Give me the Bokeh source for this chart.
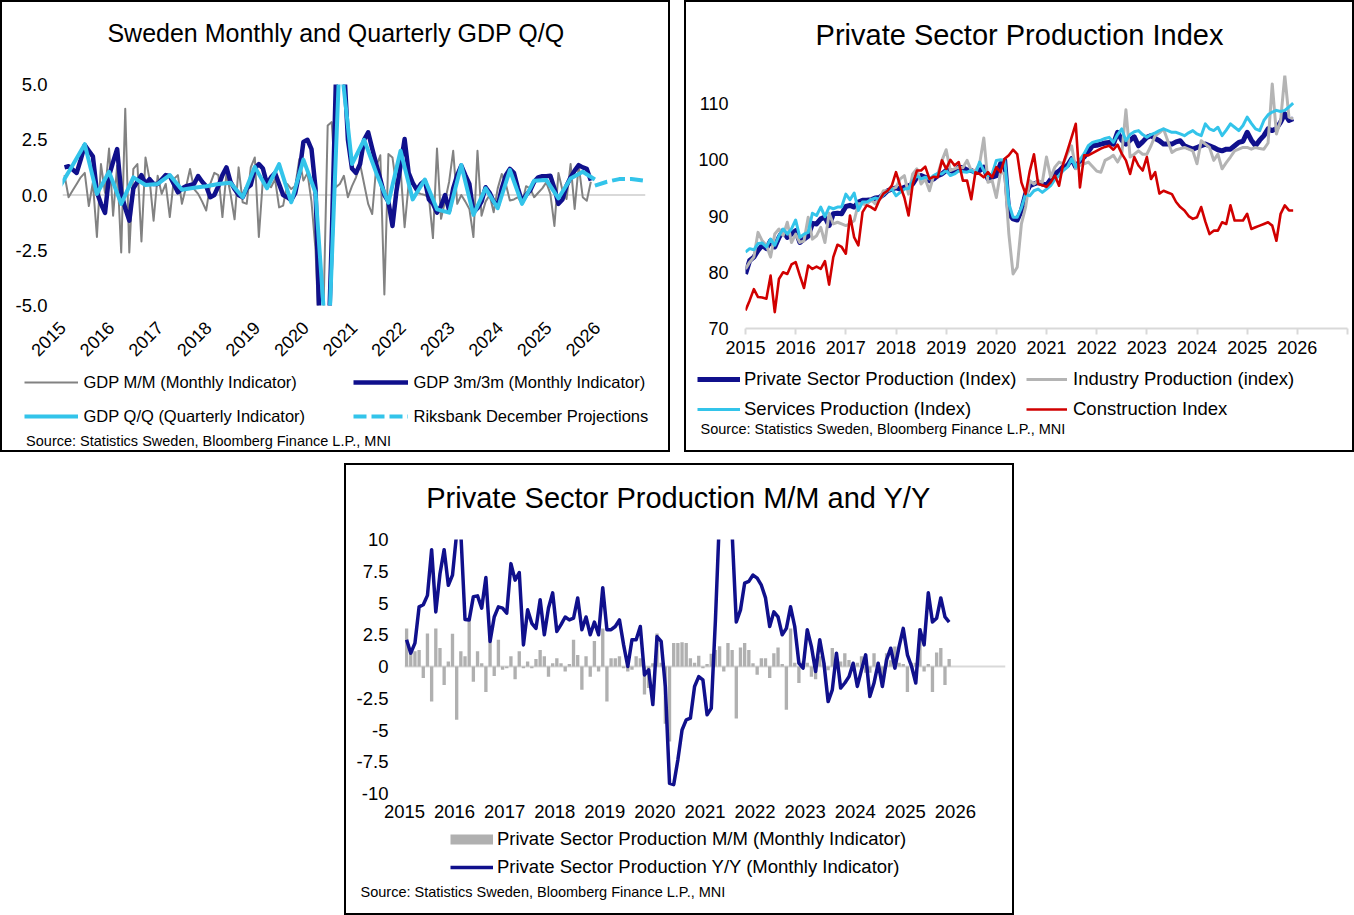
import math
from bokeh.plotting import figure
from bokeh.models import Range1d, FixedTicker, Span, Label, Legend, LegendItem, Spacer, Div
from bokeh.layouts import column, row
from bokeh.embed import file_html
from bokeh.resources import INLINE

FONT = "Liberation Sans"
START_YEAR = 2015
year_labels = [str(y) for y in range(2015, 2027)]

# ---------------- Panel 1: Sweden Monthly and Quarterly GDP Q/Q (monthly from Jan 2015) ----------------
gdp_mm = [0.9, -0.1, 0.2, 0.5, 0.8, 1.0, -0.5, 0.57, -1.9, 1.4,
          0.1, 2.1, -0.94, 1.33, -2.6, 3.9, -2.6, 1.18, 1.4, -2.1,
          1.7, 0.72, -1.16, 0.87, 0.05, 0.5, -1.0, 0.72, 0.9, -0.4,
          0.35, 1.18, 0.27, 0.05, -0.3, -0.7, 0.5, 1.0, 0.9, -1.0,
          1.0, 0.05, -1.1, 1.25, -0.33, -0.4, 1.25, 1.7, -1.9, 0.72,
          0.5, 0.35, 0.72, -0.56, -0.48, 0.5, 0.27, 0.42, 1.63, 0.65,
          1.0, -0.3, -2.5, -7.0, -5.0, 3.14, 3.3, 0.35, 0.5, 0.87,
          -0.1, 0.4, 0.8, 1.4, 0.5, -0.4, -0.86, 1.3, 1.8, -4.5,
          1.86, 1.7, 0.35, 1.18, -1.46, 0.5, 0.5, 0.12, 0.05, 0.0,
          -0.1, -1.95, 2.1, -1.08, -0.26, 0.6, 2.0, -0.4, 0.0, -0.3,
          -0.63, -1.9, 2.0, -0.94, -0.3, 0.0, -0.78, 0.3, 0.95, 0.5,
          -0.25, -0.2, -0.1, -0.4, 0.4, 0.3, -0.1, 0.1, 0.3, 0.57,
          0.05, -1.4, 1.0, 0.2, -0.18, 1.4, -0.63, 1.33, -0.1, -0.26, 0.6]
gdp_3m3m = [1.25, 1.3, 1.15, 1.0, 1.6, 2.26, 2.0, 1.75, 0.12, -0.4,
            -0.81, 0.87, 1.5, 2.08, 0.1, -0.6, -1.16, 0.3, 0.6, 0.9,
            0.5, 0.72, 0.5, 0.5, 0.7, 0.9, 0.86, 0.5, 0.12, 0.3,
            0.4, 0.45, 0.5, 0.86, 0.6, 0.4, -0.1, 0.0, 0.4, 0.9,
            1.25, 0.6, 0.27, 0.0, -0.1, 0.3, 0.45, 1.2, 1.4, 1.2,
            0.5, 0.8, 1.0, 0.5, 0.0, -0.1, -0.23, 0.1, 1.0, 2.4,
            2.5, 2.08, 0.3, -6.0, -9.0, -8.0, -2.0, 5.0, 7.0, 6.0,
            2.5, 1.2, 1.0, 1.4, 2.5, 2.84, 2.1, 1.4, 0.72, 0.0,
            -0.3, -1.4, 0.2, 1.33, 2.53, 1.0, 0.55, 0.24, 0.5, 0.65,
            -0.2, -0.4, -0.8, -0.5, 0.0, -0.7, 0.3, 0.9, 1.33, 0.9,
            0.5, -0.78, -0.6, -0.3, 0.35, 0.1, -0.3, -0.5, 0.3, 0.9,
            1.18, 1.0, 0.3, -0.3, 0.0, 0.2, 0.6, 0.8, 0.85, 0.85,
            0.87, 0.3, -0.4, -0.2, 0.42, 0.8, 1.1, 1.35, 1.25, 1.18, 0.65]
gdp_qq_quarters = ["2014Q4"] + [f"{y}Q{q}" for y in range(2015, 2026) for q in range(1, 5)]
gdp_qq = [0.42, 1.35, 2.3, 0.05, 1.05, -0.4, 0.8, 0.45, 0.5, 0.9,
          0.24, 0.33, 0.4, 0.5, 0.55, -0.1, 1.27, 0.3, 1.4, -0.33,
          1.6, 0.1, -7.8, 6.5, 1.4, 2.5, 1.0, -0.35, 2.0, -0.2,
          0.7, -0.65, -0.8, 1.36, -0.9, 0.3, -0.6, 1.13, -0.4, 0.65,
          0.68, -0.15, 0.75, 1.05, 0.7]
riks_quarters = ["2025Q4", "2026Q1", "2026Q2", "2026Q3", "2026Q4"]
riks_proj = [0.42, 0.6, 0.72, 0.72, 0.65]
p1_yticks = [-5, -2.5, 0, 2.5, 5]
p1_ylabels = ["-5.0", "-2.5", "0.0", "2.5", "5.0"]

# ---------------- Panel 2: Private Sector Production Index (monthly from Jan 2015) ----------------
priv_idx = [79.7, 82.1, 82.7, 83.9, 84.8, 84.2, 85.6, 84.5, 86.2, 87.4,
            86.2, 86.8, 87.4, 85.3, 85.9, 86.4, 88.7, 88.6, 89.5, 89.8,
            88.3, 90.4, 90.5, 90.4, 91.7, 91.9, 91.6, 92.5, 92.8, 92.8,
            92.9, 93.2, 93.3, 93.8, 94.5, 94.8, 95.0, 94.8, 95.1, 95.4,
            95.7, 96.9, 97.2, 96.9, 96.3, 96.6, 97.2, 97.5, 98.1, 98.1,
            97.8, 98.7, 98.6, 98.2, 98.1, 97.8, 98.1, 98.7, 96.6, 96.9,
            97.2, 99.3, 99.9, 90.4, 89.5, 89.3, 91.0, 93.9, 95.4, 95.7,
            96.0, 95.7, 95.5, 96.5, 97.5, 98.0, 98.8, 99.0, 100.2, 98.7,
            99.8, 100.5, 101.5, 102.5, 102.6, 102.8, 103.0, 103.1, 102.8, 104.9,
            103.5, 102.8, 103.5, 104.1, 102.5, 103.2, 104.0, 104.3, 103.8, 103.4,
            102.8, 102.8, 102.8, 103.2, 103.4, 102.5, 102.2, 101.9, 102.2, 102.5,
            102.8, 102.5, 102.2, 101.8, 101.6, 101.9, 101.9, 102.5, 103.1, 103.3,
            104.9, 103.5, 102.5, 103.5, 104.3, 105.5, 105.2, 105.6, 106.7, 108.2, 107.0, 107.3]
ind_idx = [80.6, 81.8, 82.7, 87.1, 85.6, 84.8, 82.7, 86.8, 87.7, 86.5,
           88.9, 85.3, 86.8, 85.3, 85.6, 89.8, 85.9, 86.5, 88.0, 85.3,
           90.5, 88.6, 88.9, 88.6, 88.3, 88.6, 89.2, 92.2, 92.2, 91.9,
           93.0, 92.2, 93.0, 94.5, 94.5, 94.8, 95.1, 96.6, 97.2, 93.9,
           97.5, 98.4, 95.7, 96.6, 94.5, 97.2, 97.5, 99.9, 101.8, 98.1,
           98.4, 98.7, 98.6, 99.9, 98.1, 98.1, 99.3, 103.9, 96.0, 96.3,
           93.3, 97.8, 97.5, 86.8, 79.7, 80.9, 88.6, 91.6, 96.3, 95.7,
           96.3, 96.0, 100.5, 96.9, 98.7, 99.6, 99.3, 101.1, 102.5, 98.4,
           99.0, 99.3, 99.6, 98.8, 98.0, 97.8, 99.9, 100.3, 100.8, 99.6,
           101.0, 108.9, 100.5, 101.0, 101.6, 101.0, 101.0, 102.5, 104.3, 104.8,
           105.5, 103.4, 101.3, 101.8, 102.0, 102.2, 101.9, 101.6, 99.3, 103.4,
           102.8, 102.2, 99.9, 101.0, 98.4, 99.5, 100.5, 101.6, 101.9, 102.2,
           102.2, 101.9, 102.2, 102.0, 101.9, 103.0, 113.5, 104.6, 107.0, 115.0, 107.6, 107.3]
serv_idx = [83.6, 84.2, 84.0, 85.1, 85.2, 84.5, 85.9, 84.8, 86.5, 87.7,
            86.8, 87.7, 89.3, 86.2, 86.8, 87.1, 90.5, 90.1, 91.6, 89.9,
            91.6, 91.3, 91.6, 91.6, 93.9, 92.9, 94.1, 91.0, 92.5, 92.5,
            92.9, 93.2, 93.0, 93.8, 94.5, 94.8, 93.6, 94.2, 94.8, 94.9,
            96.3, 97.2, 96.6, 96.9, 96.6, 97.2, 97.6, 97.5, 98.1, 97.2,
            97.5, 98.0, 97.9, 97.8, 98.1, 97.5, 99.6, 98.1, 97.2, 97.5,
            99.9, 100.0, 99.9, 92.2, 89.8, 89.8, 91.5, 93.9, 93.6, 94.5,
            94.8, 94.2, 94.8, 95.4, 96.5, 97.2, 98.1, 98.7, 100.2, 98.7,
            100.0, 101.1, 102.5, 103.1, 103.3, 103.5, 103.8, 104.0, 103.1, 104.5,
            105.5, 103.4, 104.5, 105.0, 105.2, 104.5, 104.0, 104.5, 104.8, 105.2,
            105.5, 105.2, 104.9, 104.9, 104.6, 104.3, 104.8, 105.2, 104.6, 104.3,
            106.4, 105.5, 105.2, 105.8, 104.3, 105.3, 106.4, 105.8, 105.2, 106.1,
            107.6, 106.5, 105.5, 105.2, 107.0, 108.0, 108.5, 108.8, 108.6, 108.8, 109.4, 110.1]
constr_idx = [73.2, 75.0, 77.0, 75.6, 75.5, 75.3, 79.4, 72.9, 78.8, 80.0,
              79.7, 81.4, 81.8, 79.4, 77.2, 81.2, 80.6, 81.0, 80.6, 82.0,
              77.8, 82.7, 84.9, 84.5, 83.3, 90.1, 86.2, 84.8, 90.7, 91.9,
              91.6, 91.1, 92.8, 94.0, 94.5, 95.4, 97.8, 95.4, 93.3, 90.1,
              95.7, 98.1, 98.1, 98.8, 96.6, 97.0, 96.9, 99.9, 98.4, 100.0,
              99.0, 99.6, 96.3, 96.3, 93.0, 97.8, 97.5, 96.9, 97.8, 96.9,
              98.7, 97.8, 100.2, 100.8, 101.8, 101.0, 96.0, 93.9, 98.0, 101.0,
              95.7, 95.5, 95.2, 96.0, 97.2, 95.4, 99.3, 101.6, 104.0, 106.4,
              95.1, 100.8, 100.8, 101.2, 101.6, 102.0, 102.3, 102.5, 101.8, 102.7,
              101.1, 99.9, 97.5, 100.5, 99.0, 98.1, 100.5, 96.6, 97.8, 94.0,
              94.5, 94.2, 93.9, 92.5, 91.6, 91.0, 90.0, 89.5, 89.8, 91.6,
              89.0, 86.8, 87.4, 87.4, 88.9, 88.6, 91.9, 89.2, 89.2, 89.2,
              90.4, 87.7, 88.0, 88.3, 88.6, 88.9, 88.3, 85.6, 90.4, 91.9, 91.0, 91.0]
p2_yticks = [70, 80, 90, 100, 110]

# ---------------- Panel 3: Private Sector Production M/M and Y/Y (monthly from Jan 2015) ----------------
psp_mm = [3.0, 1.3, 1.2, 1.3, -0.9, 2.6, -2.75, 3.0, 1.45, -1.45,
          0.4, 2.57, -4.2, 1.2, 0.8, 3.9, -1.2, 1.2, 0.26, -2.0,
          3.2, -0.75, 2.1, -0.26, -0.13, 0.8, -1.0, 1.2, -0.13, 0.4,
          -0.13, 0.6, 1.3, 0.8, -0.8, 0.26, 0.65, 0.26, -0.4, 0.2,
          2.1, 0.9, -1.84, 0.8, -0.8, 2.0, -0.4, 3.0, -2.75, 0.65,
          0.65, 0.8, -0.13, -0.4, -0.26, 0.8, 0.65, -2.2, -1.7, 0.26,
          2.6, 0.3, -4.5, -5.9, 1.85, 1.85, 1.9, 1.85, 0.65, 0.3,
          0.85, -0.13, 0.2, 1.0, 1.3, 1.6, -0.4, 1.85, 1.3, -4.1,
          1.5, 1.85, 1.3, 0.26, -0.65, 0.65, 0.65, -0.9, 1.05, 1.5,
          0.2, -3.4, 3.0, 0.3, -1.3, 0.4, 0.3, -0.8, -1.0, 0.8,
          0.3, -0.3, 1.45, 0.52, 0.4, 1.05, 0.52, -0.3, 0.3, 0.8,
          -0.5, -0.5, 1.05, 0.3, -1.2, 1.05, 0.5, 1.57, 0.3, 0.2,
          -2.0, 0.3, 0.3, 3.0, -0.4, 0.2, -2.0, 1.1, 1.45, -1.45, 0.6]
psp_yy = [2.1, 1.05, 1.84, 4.7, 4.86, 5.6, 9.2, 4.3, 7.3, 9.2,
          6.4, 7.2, 10.5, 10.5, 3.7, 3.67, 5.5, 5.56, 4.6, 7.0,
          1.97, 3.9, 4.7, 4.6, 4.2, 8.1, 6.8, 7.4, 1.7, 4.46,
          3.4, 3.0, 5.25, 2.5, 4.6, 5.8, 2.76, 3.3, 3.9, 3.67,
          3.8, 5.4, 2.9, 3.9, 2.5, 3.5, 2.5, 6.2, 2.9, 2.9,
          3.15, 3.67, 1.7, 0.0, 2.1, 2.1, 3.15, -0.66, -0.26, -3.0,
          2.36, 1.97, -1.6, -9.2, -9.3, -7.35, -5.0, -4.2, -4.07, -1.57,
          -0.8, -1.05, -3.8, -3.3, 3.67, 12.0, 15.0, 13.0, 10.5, 3.5,
          4.46, 6.56, 6.7, 7.2, 6.96, 6.4, 5.4, 3.15, 4.3, 3.9,
          2.5, 3.0, 4.7, 3.15, 0.26, -0.13, 2.9, 1.57, -0.4, 2.1,
          0.26, -2.76, -1.84, 1.05, -1.7, -1.3, -0.8, 0.26, -1.57, -0.26,
          0.92, -2.36, -1.3, 0.26, -1.57, 0.52, 1.44, -0.13, 1.57, 3.0,
          0.92, 0.0, -1.3, 2.9, 1.7, 5.8, 3.5, 3.8, 5.4, 3.9, 3.5]
p3_yticks = [-10, -7.5, -5, -2.5, 0, 2.5, 5, 7.5, 10]

# ---------------- helpers ----------------
NAVY = "#10108c"
CYAN = "#33c4ea"
ZERO = "#d9d9d9"
GRAY_MM = "#828282"
GRAY_IND = "#b4b4b4"
RED = "#d10000"
GRAY_BAR = "#b0b0b0"
SOURCE = "Source: Statistics Sweden, Bloomberg Finance L.P., MNI"
INNER_W = 666


def month_x(n, offset):
    return [i + offset for i in range(n)]


def quarter_x(labels):
    out = []
    for q in labels:
        y, k = int(q[:4]), int(q[-1])
        out.append((y - START_YEAR) * 12 + 3 * k - 1 + 0.5)
    return out


def key(v):
    return int(v) if float(v).is_integer() else v


def no_align(p):
    try:
        p.frame_align = False
    except Exception:
        pass


def chart_fig(h, lb, rb, tb, bb, y0, y1):
    p = figure(width=INNER_W, height=h, x_range=Range1d(0, 144), y_range=Range1d(y0, y1),
               output_backend="svg", toolbar_location=None,
               min_border_left=lb, min_border_right=rb, min_border_top=tb, min_border_bottom=bb)
    p.xgrid.visible = False
    p.ygrid.visible = False
    p.outline_line_color = None
    p.background_fill_color = "white"
    p.border_fill_color = "white"
    no_align(p)
    return p


def text_fig(h):
    # a strip (title or legend/source area); its frame is the whole strip
    f = figure(width=INNER_W, height=h, x_range=Range1d(0, 144), y_range=Range1d(-1000, -999),
               x_axis_type=None, y_axis_type=None, output_backend="svg", toolbar_location=None,
               min_border_left=0, min_border_right=0, min_border_top=0, min_border_bottom=0)
    f.outline_line_color = None
    f.background_fill_color = "white"
    f.border_fill_color = "white"
    no_align(f)
    return f


def style_axis(ax, size, standoff):
    ax.major_label_text_font = FONT
    ax.major_label_text_font_size = size
    ax.major_label_text_color = "black"
    ax.axis_line_color = None
    ax.major_tick_line_color = None
    ax.minor_tick_line_color = None
    ax.major_tick_out = 0
    ax.major_tick_in = 0
    ax.minor_tick_out = 0
    ax.minor_tick_in = 0
    ax.major_label_standoff = standoff


def add_text(p, x, y, text, size, align="left"):
    p.add_layout(Label(x=x, y=y, x_units="screen", y_units="screen", text=text,
                       text_font=FONT, text_font_size=size, text_color="black",
                       text_align=align, text_baseline="middle"))


def add_legend(p, items, loc, gw, gh, standoff, spacing, size):
    leg = Legend(items=[LegendItem(label=lab, renderers=[r]) for lab, r in items],
                 location=loc, orientation="vertical", glyph_width=gw, glyph_height=gh,
                 label_height=gh, label_standoff=standoff, spacing=spacing, padding=0, margin=0,
                 border_line_color=None, background_fill_alpha=0,
                 label_text_font=FONT, label_text_font_size=size, label_text_color="black")
    p.add_layout(leg)


def bar(w, h):
    return Div(text="", width=w, height=h, margin=0, styles={"background-color": "#000000"})


def boxed(parts, w=670, h=452):
    inner = column(bar(w - 4, 2), *parts, bar(w - 4, 2), spacing=0)
    return row(bar(2, h), inner, bar(2, h), spacing=0)


xt_year = [12 * i for i in range(12)]

# ---------------- Panel 1 ----------------
h1 = text_fig(58)
add_text(h1, 333.5, 28, "Sweden Monthly and Quarterly GDP Q/Q", "25px", "center")

p1 = chart_fig(311, 60, 23, 24, 66, -5, 5)
style_axis(p1.xaxis, "18px", 19)
p1.xaxis.ticker = FixedTicker(ticks=xt_year)
p1.xaxis.major_label_overrides = {t: lab for t, lab in zip(xt_year, year_labels)}
p1.xaxis.major_label_orientation = math.pi / 4
style_axis(p1.yaxis, "18.5px", 15)
p1.yaxis.ticker = FixedTicker(ticks=p1_yticks)
p1.yaxis.major_label_overrides = {key(t): lab for t, lab in zip(p1_yticks, p1_ylabels)}
p1.add_layout(Span(location=0, dimension="width", line_color=ZERO, line_width=2, level="underlay"))

x_mm = month_x(len(gdp_mm), 0.5)
x_3m = month_x(len(gdp_3m3m), 0.5)
x_qq = quarter_x(gdp_qq_quarters)
x_rb = quarter_x(riks_quarters)
mm_style = dict(line_color=GRAY_MM, line_width=2, line_join="round")
m3_style = dict(line_color=NAVY, line_width=4.5, line_join="round")
qq_style = dict(line_color=CYAN, line_width=4, line_join="round")
rb_style = dict(line_color=CYAN, line_width=4, line_dash="13 5")
p1.line(x_mm, gdp_mm, **mm_style)
p1.line(x_3m, gdp_3m3m, **m3_style)
p1.line(x_qq, gdp_qq, **qq_style)
p1.line(x_rb, riks_proj, **rb_style)

f1 = text_fig(79)
k_mm = f1.line(x_mm, gdp_mm, **mm_style)
k_3m = f1.line(x_3m, gdp_3m3m, **m3_style)
k_qq = f1.line(x_qq, gdp_qq, **qq_style)
k_rb = f1.line(x_rb, riks_proj, **rb_style)
add_legend(f1, [("GDP M/M (Monthly Indicator)", k_mm), ("GDP Q/Q (Quarterly Indicator)", k_qq)],
           (21.5, 24), 54, 20, 6, 14, "16.5px")
add_legend(f1, [("GDP 3m/3m (Monthly Indicator)", k_3m), ("Riksbank December Projections", k_rb)],
           (350.5, 24), 55, 20, 6, 14, "16.5px")
add_text(f1, 23.6, 10, SOURCE, "14.5px")

panel1 = boxed([h1, p1, f1])

# ---------------- Panel 2 ----------------
h2 = text_fig(62)
add_text(h2, 333, 30, "Private Sector Production Index", "29px", "center")

p2 = chart_fig(302, 59, 5, 11, 38, 70, 115)
style_axis(p2.xaxis, "18px", 6)
xt2 = [12 * i for i in range(13)]
p2.xaxis.ticker = FixedTicker(ticks=xt2)
p2.xaxis.major_label_overrides = {t: lab for t, lab in zip(xt2, year_labels + [""])}
p2.xaxis.axis_line_color = ZERO
p2.xaxis.axis_line_width = 2
p2.xaxis.major_tick_line_color = ZERO
p2.xaxis.major_tick_line_width = 2
p2.xaxis.major_tick_out = 6
style_axis(p2.yaxis, "18px", 17)
p2.yaxis.ticker = FixedTicker(ticks=p2_yticks)

xm2 = month_x(len(priv_idx), 0)
priv_style = dict(line_color=NAVY, line_width=5, line_join="round")
ind_style = dict(line_color=GRAY_IND, line_width=3, line_join="round")
serv_style = dict(line_color=CYAN, line_width=3, line_join="round")
con_style = dict(line_color=RED, line_width=2.6, line_join="round")
p2.line(xm2, priv_idx, **priv_style)
p2.line(xm2, ind_idx, **ind_style)
p2.line(xm2, serv_idx, **serv_style)
p2.line(xm2, constr_idx, **con_style)

f2 = text_fig(84)
k_priv = f2.line(xm2, priv_idx, **priv_style)
k_ind = f2.line(xm2, ind_idx, **ind_style)
k_serv = f2.line(xm2, serv_idx, **serv_style)
k_con = f2.line(xm2, constr_idx, **con_style)
add_legend(f2, [("Private Sector Production (Index)", k_priv), ("Services Production (Index)", k_serv)],
           (11, 30), 43, 22, 4, 8, "18.5px")
add_legend(f2, [("Industry Production (index)", k_ind), ("Construction Index", k_con)],
           (340, 30), 41, 22, 6, 8, "18.5px")
add_text(f2, 14, 22, SOURCE, "14.5px")

panel2 = boxed([h2, p2, f2])

# ---------------- Panel 3 ----------------
h3 = text_fig(55)
add_text(h3, 332, 23, "Private Sector Production M/M and Y/Y", "29px", "center")

p3 = chart_fig(306, 58, 7, 19, 33, -10, 10)
style_axis(p3.xaxis, "18.5px", 11)
p3.xaxis.ticker = FixedTicker(ticks=xt_year)
p3.xaxis.major_label_overrides = {t: lab for t, lab in zip(xt_year, year_labels)}
style_axis(p3.yaxis, "18.5px", 16)
p3.yaxis.ticker = FixedTicker(ticks=p3_yticks)
p3.yaxis.major_label_overrides = {key(t): f"{t:g}" for t in p3_yticks}
p3.add_layout(Span(location=0, dimension="width", line_color=ZERO, line_width=2, level="underlay"))

xm3 = month_x(len(psp_mm), 0.5)
yy_style = dict(line_color=NAVY, line_width=3.5, line_join="round")
p3.vbar(x=xm3, top=psp_mm, width=0.8, fill_color=GRAY_BAR, line_color=None)
p3.line(xm3, psp_yy, **yy_style)

f3 = text_fig(87)
k_bar = f3.line(xm3, psp_mm, line_color=GRAY_BAR, line_width=10, line_cap="butt")
k_yy = f3.line(xm3, psp_yy, **yy_style)
add_legend(f3, [("Private Sector Production M/M (Monthly Indicator)", k_bar),
                ("Private Sector Production Y/Y (Monthly Indicator)", k_yy)],
           (104, 35), 43, 22, 4, 6, "18.5px")
add_text(f3, 14, 22, SOURCE, "14.5px")

panel3 = boxed([h3, p3, f3])

layout = column(row(panel1, Spacer(width=14), panel2, spacing=0), Spacer(height=11),
                row(Spacer(width=344), panel3, spacing=0), spacing=0)
open("out.html", "w").write(file_html(layout, INLINE))
